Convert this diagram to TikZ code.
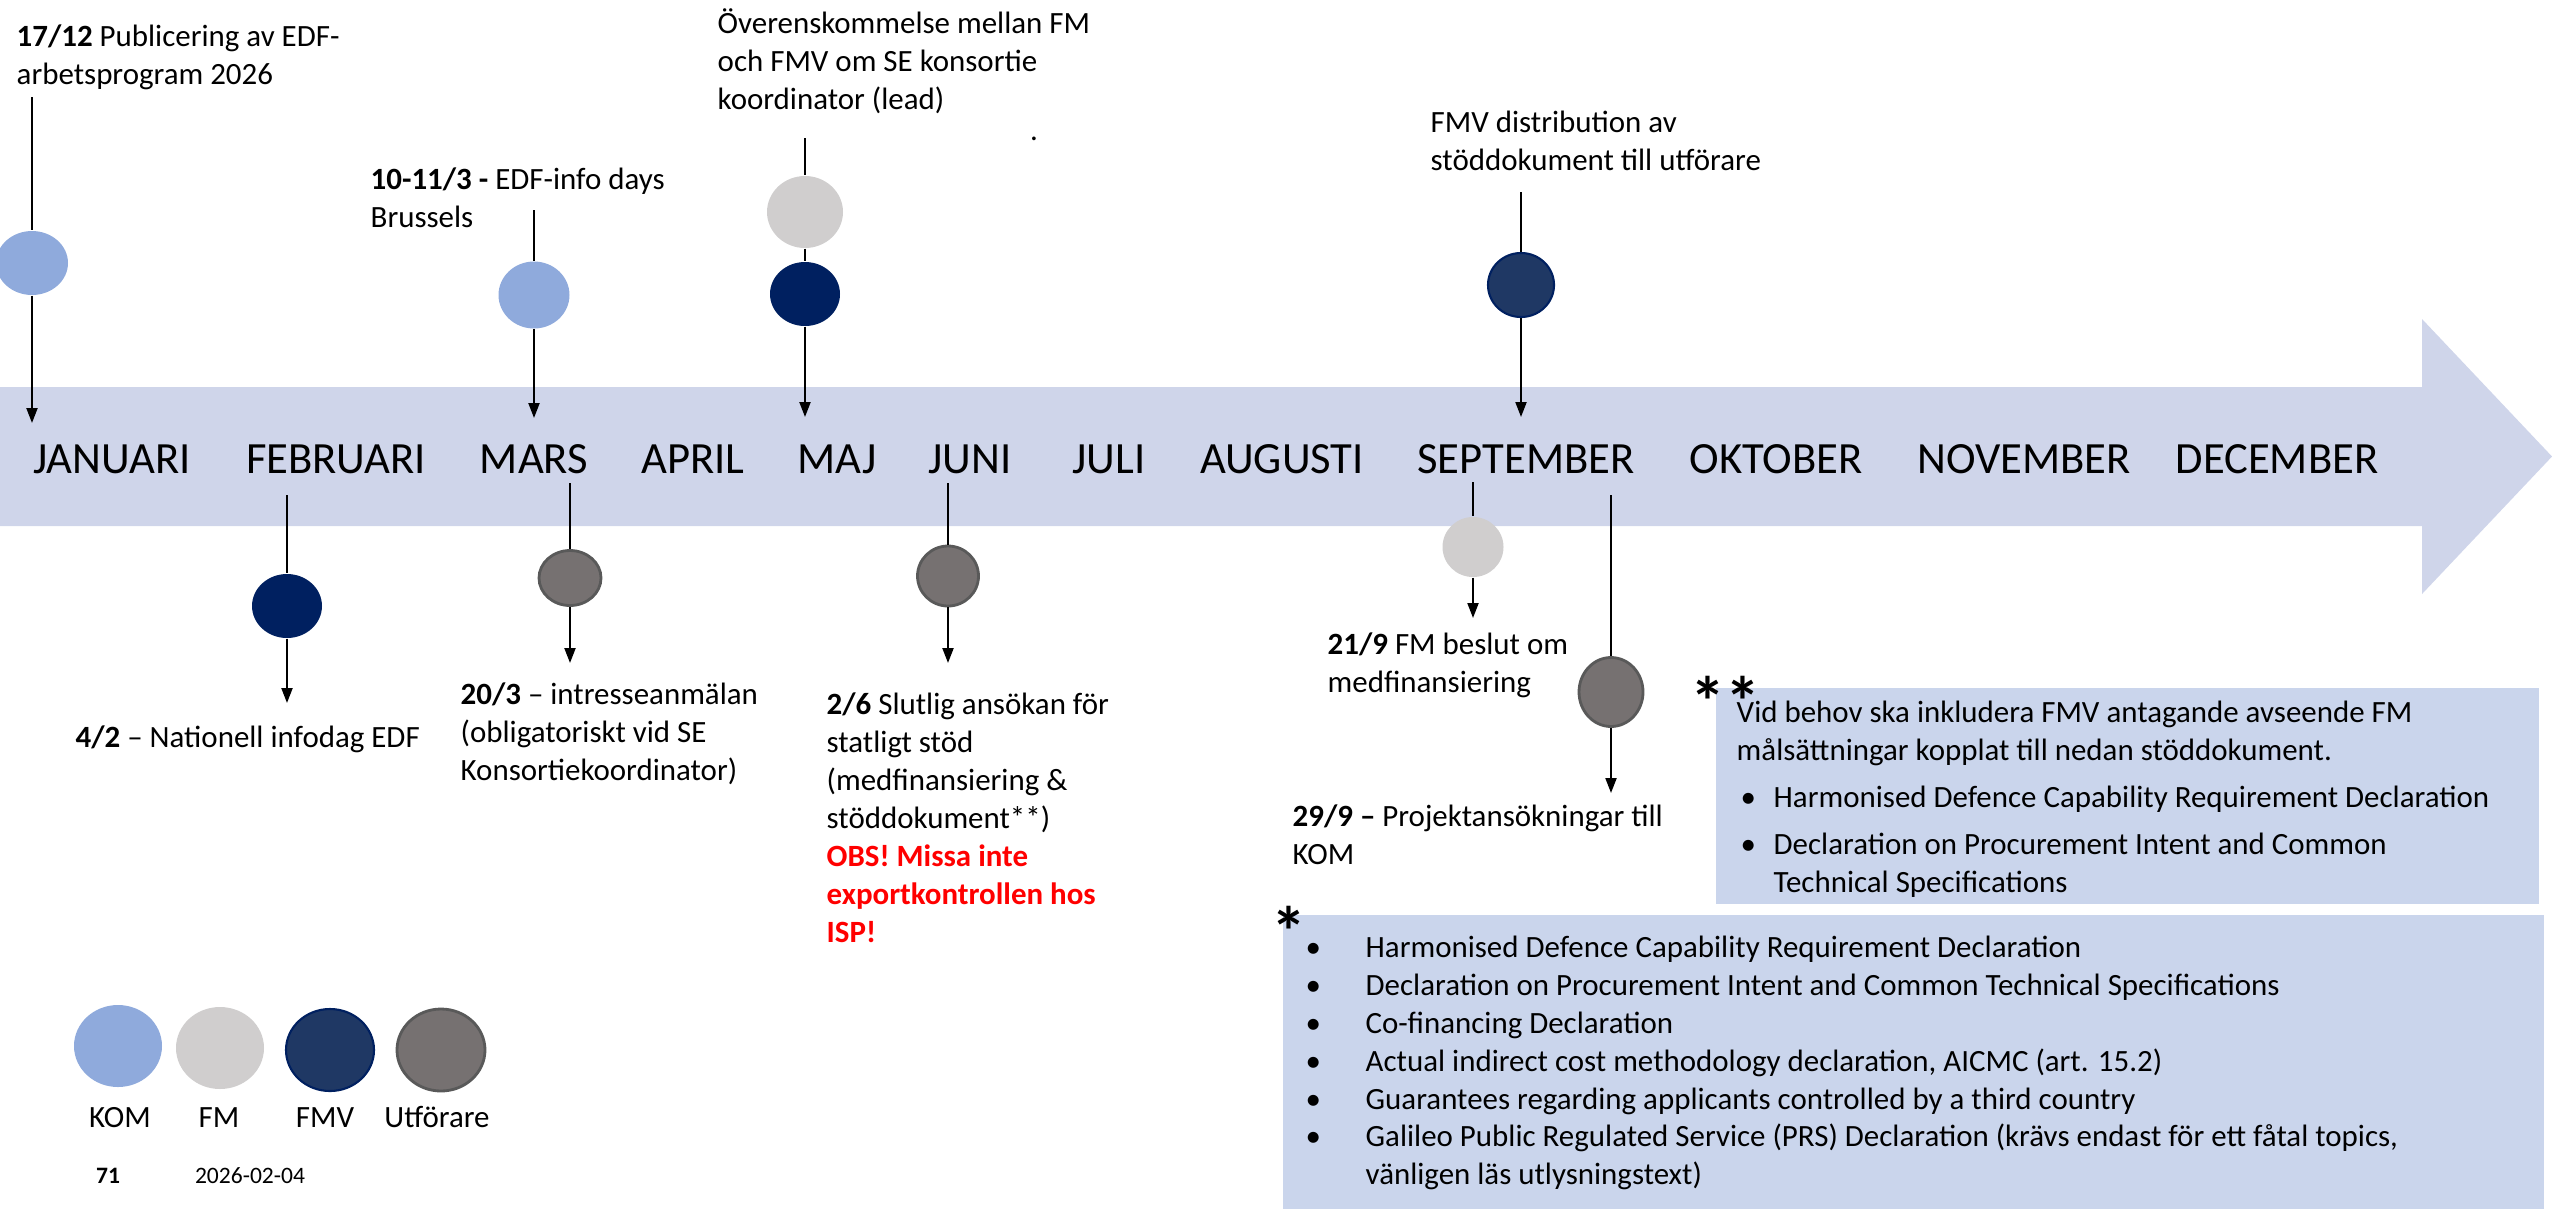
\documentclass[tikz,border=0pt]{standalone}
\usepackage{xcolor}
\usepackage{fontspec}
\setmainfont{Carlito}
\usepackage{tikz}
\usetikzlibrary{positioning,arrows.meta,shapes.geometric}

\definecolor{bandblue}{HTML}{CFD5EA}
\definecolor{noteblue}{HTML}{CAD5EC}
\definecolor{komblue}{HTML}{8FAADC}
\definecolor{fmgray}{HTML}{D0CECE}
\definecolor{fmvnavy}{HTML}{002060}
\definecolor{fmvdark}{HTML}{1F3864}
\definecolor{utfgray}{HTML}{767171}
\definecolor{utfedge}{HTML}{595959}
\definecolor{obsred}{HTML}{FF0000}

\newcommand{\bodyfont}{\fontsize{8.8}{10.8}\selectfont}
\newcommand{\tlbullet}[1]{\makebox[#1][l]{\textbullet}}

\begin{document}
\begin{tikzpicture}[
  >={Triangle[length=0.15cm,width=0.11cm]},
  month/.style={font=\fontsize{12.7}{15}\selectfont, anchor=base, inner sep=0},
  evtext/.style={font=\bodyfont, align=left, anchor=north west, inner sep=0},
  blob/.style={ellipse, minimum width=0.70cm, minimum height=0.65cm, inner sep=0},
  kom/.style={blob, fill=komblue},
  fm/.style={blob, fill=fmgray},
  fmv/.style={blob, fill=fmvnavy},
  fmvb/.style={blob, fill=fmvdark, draw=fmvnavy, line width=0.6pt},
  utf/.style={blob, fill=utfgray, draw=utfedge, line width=0.8pt},
  stem/.style={line width=0.6pt},
  arr/.style={->, line width=0.6pt},
  note/.style={fill=noteblue},
  astr/.style={font=\fontsize{20}{20}\selectfont\bfseries, anchor=base, inner sep=0},
  legtext/.style={font=\bodyfont, inner sep=0},
]
\useasboundingbox (0,0) rectangle (25.52,-12.09);

% timeline band
\fill[bandblue] (0,-3.87) -- (24.22,-3.87) -- (24.22,-3.19) -- (25.52,-4.565)
  -- (24.22,-5.94) -- (24.22,-5.26) -- (0,-5.26) -- cycle;

\node[month] (jan-m) at (1.12,-4.73) {JANUARI};
\node[month] (feb-m) at (3.36,-4.73) {FEBRUARI};
\node[month] (mar-m) at (5.34,-4.73) {MARS};
\node[month] (apr-m) at (6.93,-4.73) {APRIL};
\node[month] (maj-m) at (8.37,-4.73) {MAJ};
\node[month] (jun-m) at (9.70,-4.73) {JUNI};
\node[month] (jul-m) at (11.09,-4.73) {JULI};
\node[month] (aug-m) at (12.82,-4.73) {AUGUSTI};
\node[month] (sep-m) at (15.26,-4.73) {SEPTEMBER};
\node[month] (okt-m) at (17.76,-4.73) {OKTOBER};
\node[month] (nov-m) at (20.24,-4.73) {NOVEMBER};
\node[month] (dec-m) at (22.77,-4.73) {DECEMBER};

% events above the band
\node[kom, minimum width=0.72cm, minimum height=0.64cm] (jan) at (0.32,-2.63) {};
\coordinate (jan-top) at (0.32,-0.97);
\coordinate (jan-end) at (0.32,-4.23);
\draw[stem] (jan-top) -- (jan);
\draw[arr] (jan) -- (jan-end);
\node[evtext] (jan-txt) at (0.16,-0.24) {\textbf{17/12} Publicering av EDF-\\arbetsprogram 2026};

\node[kom, minimum width=0.71cm, minimum height=0.67cm] (mar1) at (5.34,-2.95) {};
\coordinate (mar1-top) at (5.34,-2.10);
\coordinate (mar1-end) at (5.34,-4.18);
\draw[stem] (mar1-top) -- (mar1);
\draw[arr] (mar1) -- (mar1-end);
\node[evtext] (mar1-txt) at (3.70,-1.67) {\textbf{10-11/3 -} EDF-info days\\Brussels};

\node[fm, minimum width=0.76cm, minimum height=0.72cm] (maj-fm) at (8.05,-2.12) {};
\node[fmv, minimum width=0.70cm, minimum height=0.64cm] (maj-fmv) at (8.05,-2.94) {};
\coordinate (maj-top) at (8.05,-1.38);
\coordinate (maj-end) at (8.05,-4.17);
\draw[stem] (maj-top) -- (maj-fm) -- (maj-fmv);
\draw[arr] (maj-fmv) -- (maj-end);
\node[evtext] (maj-txt) at (7.17,-0.08) {Överenskommelse mellan FM\\och FMV om SE konsortie\\koordinator (lead)};
\node[font=\bodyfont, inner sep=0, anchor=base] (maj-dot) at (10.34,-1.40) {.};

\node[fmvb, minimum width=0.66cm, minimum height=0.64cm] (sep1) at (15.21,-2.85) {};
\coordinate (sep1-top) at (15.21,-1.92);
\coordinate (sep1-end) at (15.21,-4.17);
\draw[stem] (sep1-top) -- (sep1);
\draw[arr] (sep1) -- (sep1-end);
\node[evtext] (sep1-txt) at (14.30,-1.10) {FMV distribution av\\stöddokument till utförare};

% events below the band
\node[fmv, minimum width=0.70cm, minimum height=0.64cm] (feb) at (2.87,-6.06) {};
\coordinate (feb-top) at (2.87,-4.95);
\coordinate (feb-end) at (2.87,-7.03);
\draw[stem] (feb-top) -- (feb);
\draw[arr] (feb) -- (feb-end);
\node[evtext] (feb-txt) at (0.75,-7.25) {\textbf{4/2} – Nationell infodag EDF};

\node[utf, minimum width=0.62cm, minimum height=0.55cm] (mar2) at (5.70,-5.78) {};
\coordinate (mar2-top) at (5.70,-4.83);
\coordinate (mar2-end) at (5.70,-6.63);
\draw[stem] (mar2-top) -- (mar2);
\draw[arr] (mar2) -- (mar2-end);
\node[evtext] (mar2-txt) at (4.60,-6.82) {\textbf{20/3} – intresseanmälan\\(obligatoriskt vid SE\\Konsortiekoordinator)};

\node[utf, minimum width=0.61cm, minimum height=0.60cm] (jun) at (9.48,-5.76) {};
\coordinate (jun-top) at (9.48,-4.83);
\coordinate (jun-end) at (9.48,-6.63);
\draw[stem] (jun-top) -- (jun);
\draw[arr] (jun) -- (jun-end);
\node[evtext] (jun-txt) at (8.26,-6.92) {\textbf{2/6} Slutlig ansökan för\\statligt stöd\\(medfinansiering \&\\stöddokument**)\\
  \textcolor{obsred}{\textbf{OBS! Missa inte}}\\\textcolor{obsred}{\textbf{exportkontrollen hos}}\\\textcolor{obsred}{\textbf{ISP!}}};

\node[fm, minimum width=0.61cm, minimum height=0.60cm] (sep2) at (14.73,-5.47) {};
\coordinate (sep2-top) at (14.73,-4.82);
\coordinate (sep2-end) at (14.73,-6.18);
\draw[stem] (sep2-top) -- (sep2);
\draw[arr] (sep2) -- (sep2-end);
\node[evtext] (sep2-txt) at (13.27,-6.32) {\textbf{21/9} FM beslut om\\medfinansiering};

\node[utf, minimum width=0.64cm, minimum height=0.69cm] (sep3) at (16.11,-6.92) {};
\coordinate (sep3-top) at (16.11,-4.95);
\coordinate (sep3-end) at (16.11,-7.93);
\draw[stem] (sep3-top) -- (sep3);
\draw[arr] (sep3) -- (sep3-end);
\node[evtext] (sep3-txt) at (12.92,-8.04) {\textbf{29/9 –} Projektansökningar till\\KOM};

% note boxes
\fill[note] (17.16,-6.88) rectangle (25.39,-9.04);
\node[astr] (stars2) at (17.25,-7.26) {**};
\node[evtext] (note1) at (17.36,-7.00) {Vid behov ska inkludera FMV antagande avseende FM\\
  målsättningar kopplat till nedan stöddokument.\\[0.09cm]
  \hspace*{0.04cm}\tlbullet{0.33cm}Harmonised Defence Capability Requirement Declaration\\[0.09cm]
  \hspace*{0.04cm}\tlbullet{0.33cm}Declaration on Procurement Intent and Common\\
  \hspace*{0.37cm}Technical Specifications};

\fill[note] (12.83,-9.15) rectangle (25.44,-12.09);
\node[astr] (stars1) at (12.89,-9.56) {*};
\node[evtext] (note2) at (13.05,-9.35) {\tlbullet{0.60cm}Harmonised Defence Capability Requirement Declaration\\
  \tlbullet{0.60cm}Declaration on Procurement Intent and Common Technical Specifications\\
  \tlbullet{0.60cm}Co-financing Declaration\\
  \tlbullet{0.60cm}Actual indirect cost methodology declaration, AICMC (art. 15.2)\\
  \tlbullet{0.60cm}Guarantees regarding applicants controlled by a third country\\
  \tlbullet{0.60cm}Galileo Public Regulated Service (PRS) Declaration (krävs endast för ett fåtal topics,\\
  \hspace*{0.60cm}vänligen läs utlysningstext)};

% legend
\node[kom, minimum width=0.88cm, minimum height=0.82cm] (lg-kom) at (1.18,-10.46) {};
\node[fm, minimum width=0.88cm, minimum height=0.82cm] (lg-fm) at (2.20,-10.48) {};
\node[fmvb, minimum width=0.88cm, minimum height=0.82cm] (lg-fmv) at (3.30,-10.50) {};
\node[utf, minimum width=0.88cm, minimum height=0.82cm] (lg-utf) at (4.41,-10.50) {};
\node[legtext, anchor=base] (lg-kom-t) at (1.20,-11.27) {KOM};
\node[legtext, anchor=base] (lg-fm-t) at (2.19,-11.27) {FM};
\node[legtext, anchor=base] (lg-fmv-t) at (3.25,-11.27) {FMV};
\node[legtext, anchor=base] (lg-utf-t) at (4.37,-11.27) {Utförare};

% footer
\node[font=\fontsize{6.7}{8}\selectfont\bfseries, anchor=base, inner sep=0] (pagenr) at (1.08,-11.83) {71};
\node[font=\fontsize{6.7}{8}\selectfont, anchor=base, inner sep=0] (date) at (2.50,-11.83) {2026-02-04};
\end{tikzpicture}
\end{document}
